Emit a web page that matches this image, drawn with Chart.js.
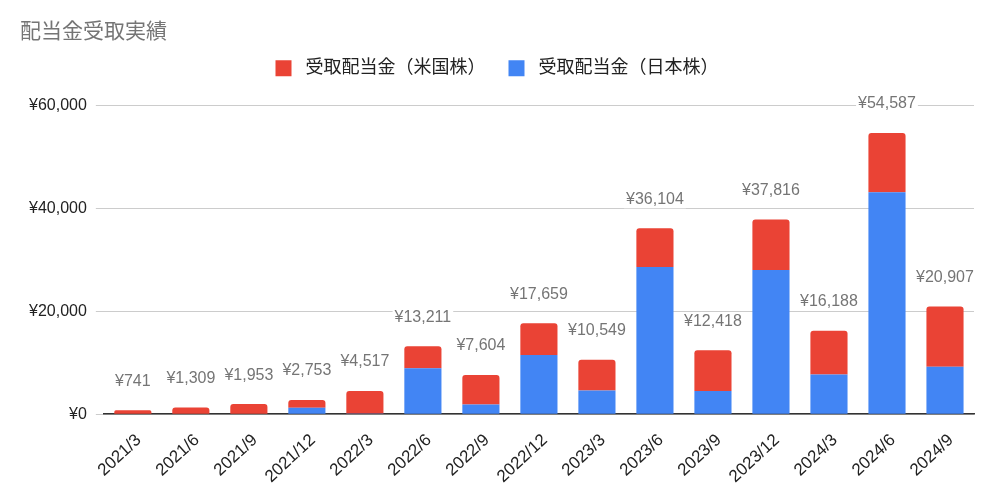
<!DOCTYPE html>
<html>
<head>
  <title>配当金受取実績</title>
  <script src="https://cdn.jsdelivr.net/npm/chart.js"></script>
  <style>
    body { margin: 0; background: #fff; }
    #wrap { width: 994px; height: 501px; }
  </style>
</head>
<body>
  <div id="wrap"><canvas id="dividend-chart"></canvas></div>
  <script>
    const labels = ['2021/3', '2021/6', '2021/9', '2021/12', '2022/3', '2022/6', '2022/9', '2022/12', '2023/3', '2023/6', '2023/9', '2023/12', '2024/3', '2024/6', '2024/9'];
    const totals = [741, 1309, 1953, 2753, 4517, 13211, 7604, 17659, 10549, 36104, 12418, 37816, 16188, 54587, 20907];
    const japan = [0, 0, 0, 1250, 150, 8900, 1900, 11500, 4600, 28600, 4500, 28000, 7700, 43100, 9200];
    const us = totals.map((t, i) => t - japan[i]);
    const yTicks = [0, 20000, 40000, 60000];

    const fontFamily = "Arial, 'Liberation Sans', 'Noto Sans CJK JP', sans-serif";
    const yen = v => '¥' + v.toLocaleString('en-US');

    // total on top of each stacked bar, with a white backing like the original
    const totalLabels = {
      id: 'totalLabels',
      afterDatasetsDraw(chart) {
        const ctx = chart.ctx;
        const meta = chart.getDatasetMeta(1);
        ctx.save();
        ctx.font = '16px ' + fontFamily;
        ctx.textAlign = 'center';
        ctx.textBaseline = 'middle';
        meta.data.forEach((bar, i) => {
          const txt = yen(totals[i]);
          const w = ctx.measureText(txt).width;
          const y = bar.y - 29;
          ctx.fillStyle = '#fff';
          ctx.fillRect(bar.x - w / 2 - 2, y - 9, w + 4, 18);
          ctx.fillStyle = '#757575';
          ctx.fillText(txt, bar.x, y);
        });
        ctx.restore();
      }
    };

    // extra room under the legend
    const legendGap = {
      id: 'legendGap',
      beforeInit(chart) {
        const fit = chart.legend.fit;
        chart.legend.fit = function () {
          fit.bind(chart.legend)();
          this.height += 18;
        };
      }
    };

    const ctx = document.getElementById('dividend-chart').getContext('2d');
    const chart = new Chart(ctx, {
      type: 'bar',
      data: {
        labels: labels,
        datasets: [{
          label: '受取配当金（日本株）',
          data: japan,
          backgroundColor: '#4285F4',
          barPercentage: 0.64,
          categoryPercentage: 1
        }, {
          label: '受取配当金（米国株）',
          data: us,
          backgroundColor: '#EA4335',
          borderRadius: { topLeft: 3, topRight: 3 },
          borderSkipped: false,
          barPercentage: 0.64,
          categoryPercentage: 1
        }]
      },
      options: {
        responsive: true,
        maintainAspectRatio: false,
        animation: false,
        layout: { padding: { left: 20, right: 20, top: 0, bottom: 6 } },
        plugins: {
          title: {
            display: true,
            text: '配当金受取実績',
            align: 'start',
            color: '#757575',
            font: { family: fontFamily, size: 21, weight: 'normal' },
            padding: { top: 20, bottom: 0 }
          },
          legend: {
            reverse: true,
            labels: {
              color: '#222',
              boxWidth: 16,
              boxHeight: 16,
              padding: 14,
              font: { family: fontFamily, size: 18 },
              generateLabels(chart) {
                const items = Chart.defaults.plugins.legend.labels.generateLabels(chart);
                items.forEach(it => {
                  it.text = ' ' + it.text + (it.datasetIndex === 1 ? '　' : '');
                });
                return items;
              }
            }
          },
          tooltip: { enabled: false }
        },
        scales: {
          x: {
            stacked: true,
            grid: { display: false },
            border: { color: '#333', width: 1.5 },
            ticks: {
              color: '#222',
              minRotation: 43,
              maxRotation: 43,
              padding: 8,
              labelOffset: 6,
              font: { family: fontFamily, size: 17 }
            }
          },
          y: {
            stacked: true,
            min: 0,
            max: 60000,
            afterBuildTicks(scale) {
              scale.ticks = yTicks.map(v => ({ value: v }));
            },
            grid: { color: '#cccccc' },
            border: { display: false },
            ticks: {
              color: '#222',
              padding: 9,
              font: { family: fontFamily, size: 16 },
              callback: v => yen(v)
            }
          }
        }
      },
      plugins: [totalLabels, legendGap]
    });
  </script>
</body>
</html>
